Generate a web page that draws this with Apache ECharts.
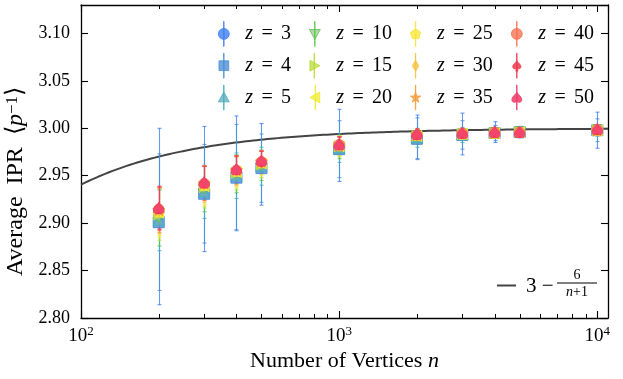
<!DOCTYPE html>
<html>
<head>
<meta charset="utf-8">
<script src="https://cdn.jsdelivr.net/npm/echarts@6/dist/echarts.min.js"></script>
<style>
  html, body { margin: 0; padding: 0; background: #fff; }
  #main { width: 623px; height: 379px; }
</style>
</head>
<body>
<div id="main"></div>
<script>
// number of vertices (x positions)
const nVals = [200, 300, 400, 500, 1000, 2000, 3000, 4000, 5000, 10000];
const zVals = [3, 4, 5, 10, 15, 20, 25, 30, 35, 40, 45, 50];

// average IPR per z
const mean_z3  = [2.907, 2.936, 2.953, 2.962, 2.982, 2.991, 2.994, 2.996, 2.996, 2.998];
const mean_z4  = [2.901, 2.931, 2.948, 2.958, 2.978, 2.989, 2.993, 2.995, 2.996, 2.998];
const mean_z5  = [2.903, 2.933, 2.950, 2.960, 2.979, 2.990, 2.993, 2.995, 2.996, 2.998];
const mean_z10 = [2.906, 2.936, 2.952, 2.961, 2.980, 2.991, 2.994, 2.995, 2.996, 2.998];
const mean_z15 = [2.909, 2.938, 2.953, 2.962, 2.981, 2.992, 2.994, 2.995, 2.996, 2.998];
const mean_z20 = [2.911, 2.939, 2.954, 2.963, 2.981, 2.992, 2.994, 2.995, 2.996, 2.998];
const mean_z25 = [2.912, 2.940, 2.955, 2.964, 2.982, 2.993, 2.994, 2.995, 2.996, 2.998];
const mean_z30 = [2.913, 2.941, 2.955, 2.964, 2.982, 2.993, 2.994, 2.995, 2.996, 2.998];
const mean_z35 = [2.914, 2.942, 2.956, 2.965, 2.982, 2.993, 2.995, 2.995, 2.996, 2.998];
const mean_z40 = [2.915, 2.942, 2.956, 2.965, 2.983, 2.993, 2.995, 2.996, 2.996, 2.999];
const mean_z45 = [2.916, 2.943, 2.957, 2.965, 2.983, 2.994, 2.995, 2.996, 2.996, 2.999];
const mean_z50 = [2.916, 2.943, 2.957, 2.966, 2.983, 2.994, 2.995, 2.996, 2.996, 2.999];

// error bar half-lengths
const err_z3  = [0.093, 0.066, 0.060, 0.043, 0.038, 0.023, 0.022, 0.011, 0.006, 0.019];
const err_z4  = [0.072, 0.052, 0.056, 0.036, 0.030, 0.022, 0.015, 0.008, 0.005, 0.012];
const err_z5  = [0.032, 0.028, 0.024, 0.020, 0.015, 0.010, 0.008, 0.005, 0.004, 0.006];
const err_z10 = [0.030, 0.024, 0.020, 0.016, 0.012, 0.008, 0.006, 0.004, 0.003, 0.006];
const err_z15 = [0.027, 0.022, 0.018, 0.014, 0.011, 0.007, 0.005, 0.004, 0.003, 0.005];
const err_z20 = [0.026, 0.021, 0.017, 0.013, 0.010, 0.006, 0.005, 0.003, 0.003, 0.005];
const err_z25 = [0.025, 0.020, 0.016, 0.012, 0.010, 0.006, 0.004, 0.003, 0.002, 0.004];
const err_z30 = [0.024, 0.019, 0.015, 0.012, 0.009, 0.006, 0.004, 0.003, 0.002, 0.004];
const err_z35 = [0.024, 0.018, 0.015, 0.011, 0.009, 0.005, 0.004, 0.003, 0.002, 0.004];
const err_z40 = [0.023, 0.018, 0.014, 0.011, 0.008, 0.005, 0.004, 0.003, 0.002, 0.004];
const err_z45 = [0.023, 0.017, 0.014, 0.011, 0.008, 0.005, 0.004, 0.003, 0.002, 0.004];
const err_z50 = [0.022, 0.017, 0.014, 0.010, 0.008, 0.005, 0.004, 0.003, 0.002, 0.004];

const xTickLabels = ['10', '10', '10'];
const minorTicks = [200, 300, 400, 500, 600, 700, 800, 900, 2000, 3000, 4000, 5000, 6000, 7000, 8000, 9000];

const means = [mean_z3, mean_z4, mean_z5, mean_z10, mean_z15, mean_z20, mean_z25, mean_z30, mean_z35, mean_z40, mean_z45, mean_z50];
const errs = [err_z3, err_z4, err_z5, err_z10, err_z15, err_z20, err_z25, err_z30, err_z35, err_z40, err_z45, err_z50];

const colors = ['#3d7ff2', '#4a8fd6', '#45aebf', '#58c447', '#b9dc35', '#eeec2c', '#f6e33a', '#f8c043', '#f89a3a', '#f7734f', '#f03a4c', '#f0386a'];
const fills  = ['rgba(61,127,242,0.8)', 'rgba(90,150,215,0.85)', 'rgba(110,175,190,0.8)', 'rgba(160,200,150,0.75)',
                'rgba(190,222,70,0.8)', 'rgba(240,238,60,0.8)', 'rgba(248,232,70,0.85)', 'rgba(250,200,80,0.85)',
                'rgba(249,160,70,0.85)', 'rgba(248,125,95,0.85)', 'rgba(242,70,85,0.9)', 'rgba(243,70,110,0.9)'];

// marker shapes in a 20x20 box
const shapes = [
  'M0,10 C0,4.48 4.48,0 10,0 C15.52,0 20,4.48 20,10 C20,15.52 15.52,20 10,20 C4.48,20 0,15.52 0,10 Z',
  'M1,1 L19,1 L19,19 L1,19 Z',
  'M10,0 L20,18 L0,18 Z',
  'M0,2 L20,2 L10,20 Z',
  'M2,0 L20,10 L2,20 Z',
  'M18,0 L18,20 L0,10 Z',
  'M10,0.5 L19.51,7.41 L15.88,18.59 L4.12,18.59 L0.49,7.41 Z',
  'M10,0 L16,10 L10,20 L4,10 Z',
  'M10,0.5 L12.35,7.26 L19.51,7.41 L13.8,11.74 L15.88,18.59 L10,14.5 L4.12,18.59 L6.2,11.74 L0.49,7.41 L7.65,7.26 Z',
  'M0,10 C0,4.48 4.48,0 10,0 C15.52,0 20,4.48 20,10 C20,15.52 15.52,20 10,20 C4.48,20 0,15.52 0,10 Z',
  'M10,0 C10,4 20,8 17,14 C15,17 11,16 10,13 L12,20 L8,20 L10,13 C9,16 5,17 3,14 C0,8 10,4 10,0 Z',
  'M10,0 C12,5 20,9 19,15 C18,20 12,20 10,16 C8,20 2,20 1,15 C0,9 8,5 10,0 Z'
];
const sizes = [10, 11, 11, 11, 11, 11, 11, 12, 12, 10, 11, 11];

function shiftPath(p, dy) {
  return p.replace(/(-?[\d.]+),(-?[\d.]+)/g, (m, a, b) => a + ',' + (parseFloat(b) + dy));
}
function legendIcon(i) {
  return 'path://M9.7,0 L10.3,0 L10.3,46 L9.7,46 Z ' + shiftPath(shapes[i], 13);
}

const serif = 'Liberation Serif';

function errorBarRender(color) {
  return function (params, api) {
    const x = api.value(0), m = api.value(1), e = api.value(2);
    const t = api.coord([x, m + e]);
    const b = api.coord([x, m - e]);
    const px = Math.round(t[0]) + 0.5;
    const style = { stroke: color, lineWidth: 1.1, opacity: 0.8 };
    return {
      type: 'group',
      children: [
        { type: 'line', shape: { x1: px, y1: t[1], x2: px, y2: b[1] }, style: style },
        { type: 'line', shape: { x1: px - 2, y1: t[1], x2: px + 2, y2: t[1] }, style: style },
        { type: 'line', shape: { x1: px - 2, y1: b[1], x2: px + 2, y2: b[1] }, style: style }
      ]
    };
  };
}

// theory curve 3 - 6/(n+1)
const curve = [];
for (let i = 0; i <= 150; i++) {
  const n = 100 * Math.pow(110, i / 150);
  curve.push([n, 3 - 6 / (n + 1)]);
}

const series = [];
series.push({
  type: 'line', name: 'theory', data: curve, showSymbol: false, symbol: 'none',
  lineStyle: { color: '#444', width: 2 }, silent: true, z: 1
});
zVals.forEach((z, i) => {
  series.push({
    type: 'custom', name: 'err' + z,
    data: nVals.map((n, k) => [n, means[i][k], errs[i][k]]),
    encode: { x: 0, y: 1 },
    renderItem: errorBarRender(colors[i]),
    silent: true, z: 2
  });
  series.push({
    type: 'scatter', name: 'z = ' + z,
    data: nVals.map((n, k) => [n, means[i][k]]),
    symbol: 'path://' + shapes[i], symbolSize: sizes[i], symbolKeepAspect: true,
    itemStyle: { color: fills[i], borderColor: colors[i], borderWidth: 1, opacity: 1 },
    silent: true, z: 2
  });
});
// minor ticks for the log axis (bottom and top)
series.push({
  type: 'custom', name: 'minor', silent: true, z: 5,
  data: minorTicks.map(v => [v, 2.9]),
  encode: { x: 0, y: 1 },
  renderItem: function (params, api) {
    const cs = params.coordSys;
    const px = Math.round(api.coord([api.value(0), 2.9])[0]) + 0.5;
    const st = { stroke: '#000', lineWidth: 1 };
    return {
      type: 'group',
      children: [
        { type: 'line', shape: { x1: px, y1: cs.y + cs.height, x2: px, y2: cs.y + cs.height - 4 }, style: st },
        { type: 'line', shape: { x1: px, y1: cs.y, x2: px, y2: cs.y + 4 }, style: st }
      ]
    };
  }
});

const legends = [0, 1, 2, 3].map(c => ({
  orient: 'vertical',
  left: [218, 309, 410, 511][c],
  top: 21,
  padding: 0,
  itemWidth: 11,
  itemHeight: 25,
  itemGap: 6,
  selectedMode: false,
  itemStyle: { borderWidth: 0.8 },
  data: zVals.slice(c * 3, c * 3 + 3).map((z, j) => ({ name: 'z = ' + z, icon: legendIcon(c * 3 + j) })),
  formatter: name => '{i|z}\u2004\u200a=\u2004\u200a' + name.split(' = ')[1],
  textStyle: {
    fontFamily: serif, fontSize: 20, color: '#000', padding: [0, 0, 0, 11], lineHeight: 25,
    rich: { i: { fontFamily: serif, fontStyle: 'italic', fontSize: 20, color: '#000' } }
  }
}));

const axisCommon = {
  axisLine: { show: true, onZero: false, lineStyle: { color: '#000', width: 1.3 } },
  axisTick: { show: true, inside: true, length: 7, lineStyle: { color: '#000', width: 1.1 } },
  splitLine: { show: false }
};

const chart = echarts.init(document.getElementById('main'), null, { renderer: 'canvas' });
chart.setOption({
  animation: false,
  backgroundColor: '#fff',
  grid: { left: 81, right: 15, top: 5, bottom: 61, containLabel: false, outerBoundsMode: 'none' },
  legend: legends,
  xAxis: [
    Object.assign({
      type: 'log', logBase: 10, min: 100, max: 11000, position: 'bottom',
      name: 'Number of Vertices {i|n}', nameLocation: 'middle', nameGap: 27,
      nameTextStyle: {
        fontFamily: serif, fontSize: 22, color: '#000',
        rich: { i: { fontFamily: serif, fontStyle: 'italic', fontSize: 22 } }
      },
      axisLabel: {
        margin: 7, showMaxLabel: false,
        formatter: function (v) {
          const e = Math.round(Math.log10(v));
          if (Math.abs(Math.pow(10, e) - v) > 1e-6 * v) return '';
          return '{b|' + xTickLabels[e - 2] + '}{s|' + e + '}';
        },
        rich: {
          b: { fontFamily: serif, fontSize: 19, color: '#000', lineHeight: 22 },
          s: { fontFamily: serif, fontSize: 13, color: '#000', verticalAlign: 'top', lineHeight: 12 }
        }
      }
    }, axisCommon),
    Object.assign({
      type: 'log', logBase: 10, min: 100, max: 11000, position: 'top',
      axisLabel: { show: false }
    }, axisCommon)
  ],
  yAxis: [
    Object.assign({
      type: 'value', min: 2.80, max: 3.13, interval: 0.05, position: 'left',
      name: 'Average\u2002IPR\u2002⟨{i|p}{s|−1}⟩', nameLocation: 'middle', nameGap: 52, nameRotate: 90,
      nameTextStyle: {
        fontFamily: serif, fontSize: 24, color: '#000', padding: [0, 40, 0, 0],
        rich: {
          i: { fontFamily: serif, fontStyle: 'italic', fontSize: 24 },
          s: { fontFamily: serif, fontSize: 17, verticalAlign: 'top', lineHeight: 14 }
        }
      },
      axisLabel: {
        margin: 11, showMaxLabel: false, fontFamily: serif, fontSize: 18, color: '#000',
        formatter: v => v.toFixed(2)
      }
    }, axisCommon),
    Object.assign({
      type: 'value', min: 2.80, max: 3.13, interval: 0.05, position: 'right',
      axisLabel: { show: false }
    }, axisCommon)
  ],
  graphic: [
    { type: 'line', shape: { x1: 497, y1: 285.5, x2: 516, y2: 285.5 }, style: { stroke: '#444', lineWidth: 2 } },
    { type: 'text', x: 526, y: 286, style: { text: '3 −', font: '21px ' + serif, fill: '#000', verticalAlign: 'middle' } },
    { type: 'text', x: 577, y: 275, style: { text: '6', font: '14px ' + serif, fill: '#000', align: 'center', verticalAlign: 'middle' } },
    { type: 'rect', shape: { x: 557, y: 282.5, width: 40, height: 0.9 }, style: { fill: '#000' } },
    { type: 'text', x: 577, y: 292, style: {
        text: '{i|n}+1', align: 'center', verticalAlign: 'middle', fill: '#000', font: '14px ' + serif,
        rich: { i: { fontStyle: 'italic', fontFamily: serif, fontSize: 14 } }
      } }
  ],
  series: series
});
</script>
</body>
</html>
